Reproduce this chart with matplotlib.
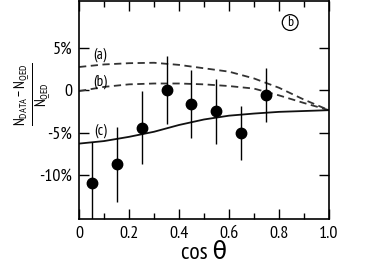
import numpy as np
import matplotlib
matplotlib.use("Agg")
import matplotlib.pyplot as plt
from matplotlib.ticker import MultipleLocator, FixedLocator

plt.rcParams['font.family'] = ['PT Sans Narrow', 'DejaVu Sans']
plt.rcParams['mathtext.fontset'] = 'custom'
plt.rcParams['mathtext.rm'] = 'PT Sans Narrow'
plt.rcParams['mathtext.it'] = 'PT Sans Narrow'

# measured points
cos_theta = [0.05, 0.15, 0.25, 0.35, 0.45, 0.55, 0.65, 0.75]
delta = [-10.9, -8.75, -4.4, 0.0, -1.6, -2.5, -5.0, -0.6]
err = [4.8, 4.45, 4.3, 4.0, 4.0, 3.8, 3.2, 3.2]

# theory curves
x_curve = [0.0, 0.1, 0.2, 0.3, 0.4, 0.5, 0.6, 0.7, 0.8, 0.9, 1.0]
curve_a = [2.75, 3.05, 3.2, 3.25, 3.0, 2.6, 2.2, 1.4, 0.3, -1.1, -2.35]
curve_b = [-0.1, 0.4, 0.7, 0.8, 0.8, 0.7, 0.5, 0.2, -0.6, -1.5, -2.35]
curve_c = [-6.3, -6.0, -5.5, -4.9, -4.1, -3.45, -3.0, -2.75, -2.55, -2.45, -2.35]

yticks = [5, 0, -5, -10]
ytick_labels = ['5%', '0', '-5%', '-10%']
xticks = [0, 0.2, 0.4, 0.6, 0.8, 1.0]
xtick_labels = ['0', '0.2', '0.4', '0.6', '0.8', '1.0']

fig = plt.figure(figsize=(3.82, 2.73), dpi=100)
ax = fig.add_axes([0.207, 0.198, 0.654, 0.80])

ax.plot(x_curve, curve_a, color='#333333', ls=(0, (4, 2.5)), lw=1.3)
ax.plot(x_curve, curve_b, color='#333333', ls=(0, (4, 2.5)), lw=1.3)
ax.plot(x_curve, curve_c, color='#111111', ls='-', lw=1.3)
ax.errorbar(cos_theta, delta, yerr=err, fmt='o', color='black', ms=7.5,
            elinewidth=1.0, capsize=0)

ax.text(0.085, 4.2, '(a)', fontsize=11, ha='center', va='center')
ax.text(0.085, 1.05, '(b)', fontsize=11, ha='center', va='center')
ax.text(0.085, -4.8, '(c)', fontsize=11, ha='center', va='center')
ax.text(0.845, 8.0, 'b', fontsize=10, ha='center', va='center',
        bbox=dict(boxstyle='circle,pad=0.1', fc='white', ec='black', lw=0.9))

ax.set_xlim(0, 1.0)
ax.set_ylim(-15.2, 10.6)
ax.set_xticks(xticks)
ax.set_xticklabels(xtick_labels)
ax.xaxis.set_minor_locator(MultipleLocator(0.1))
ax.yaxis.set_major_locator(FixedLocator(yticks))
ax.set_yticklabels(ytick_labels)
ax.tick_params(which='both', direction='in', top=True, right=True,
               labelsize=13, width=1.0)
ax.tick_params(which='major', length=7, pad=5)
ax.tick_params(which='minor', length=4)
for s in ax.spines.values():
    s.set_linewidth(1.2)

ax.set_xlabel('cos θ', fontsize=17, labelpad=1)
fig.text(0.088, 0.655, r'$\frac{N_{DATA}-N_{QED}}{N_{QED}}$', rotation=90,
         fontsize=15, ha='center', va='center')

fig.savefig('out.png', dpi=100)
